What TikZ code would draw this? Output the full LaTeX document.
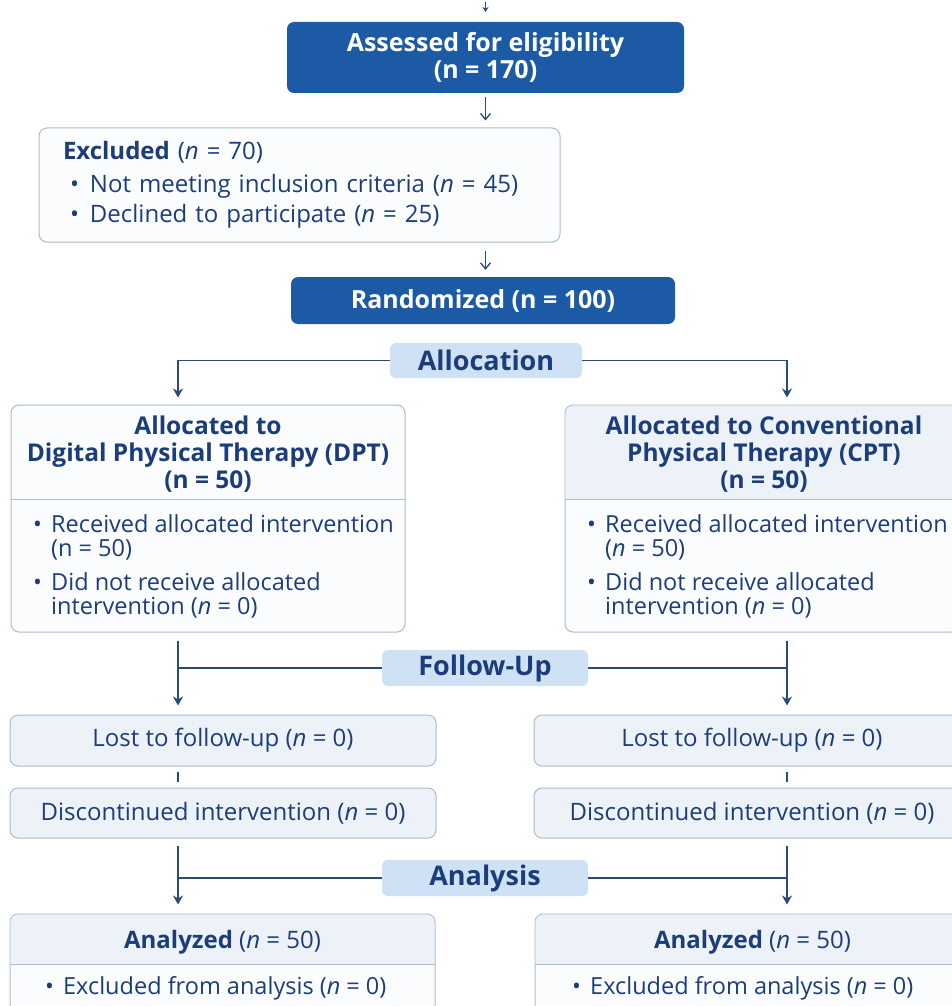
\documentclass[tikz,border=0pt]{standalone}
\usepackage{fontspec}
\setmainfont{Open Sans}
\usepackage{xcolor}
\usepackage{tikz}
\usetikzlibrary{arrows.meta}
\usetikzlibrary{shapes,arrows}

\definecolor{ctdark}{HTML}{1C5AA6}
\definecolor{ctnavy}{HTML}{1B3D7A}
\definecolor{ctline}{HTML}{2B4A78}
\definecolor{cttag}{HTML}{CFE2F5}
\definecolor{ctpale}{HTML}{EDF2F8}
\definecolor{ctwhite}{HTML}{FBFCFE}
\definecolor{ctedge}{HTML}{AEBCCD}

\newcommand{\ctsize}{\fontsize{24}{27}\selectfont}
\newcommand{\ctbody}{\fontsize{23.5}{24}\selectfont}
\newcommand{\cthead}{\fontsize{24.5}{27}\selectfont\bfseries}
\newcommand{\bul}{\makebox[18pt][l]{\textbullet}}

\tikzstyle{darkbox} = [fill=ctdark, text=white, font=\fontsize{25}{27}\selectfont\bfseries, rounded corners=7pt, align=center]
\tikzstyle{palebox} = [draw=ctedge, fill=ctpale, text=ctnavy, line width=1pt, rounded corners=8pt]
\tikzstyle{whitebox} = [palebox, fill=ctwhite]
\tikzstyle{tag} = [fill=cttag, text=ctnavy, font=\fontsize{27}{30}\selectfont\bfseries, rounded corners=6pt, minimum width=206pt, minimum height=36pt, inner sep=0pt]
\tikzstyle{link} = [draw=ctline, line width=1.8pt]
\tikzstyle{arrow} = [link, -{Stealth[length=9pt,width=10pt]}]
\tikzstyle{thinarrow} = [draw=ctline, line width=1.3pt, -{Straight Barb[length=6pt,width=10pt]}]
\tikzstyle{txt} = [text=ctnavy, inner sep=0pt]

\begin{document}
\begin{tikzpicture}[x=1pt, y=-1pt, font=\ctsize]
    \useasboundingbox (0,0) rectangle (951,1006);
    \fill[white] (0,0) rectangle (951,1006);

    % enrolment
    \coordinate (entry) at (485.5,2);
    \coordinate (entrytip) at (485.5,12);
    \draw[draw=ctline, line width=1pt, -{Stealth[length=5pt,width=6pt]}] (entry) -- (entrytip);
    \node[darkbox, minimum width=397pt, minimum height=71pt] (assess) at (485.5,57.5) {Assessed for eligibility\\(n = 170)};
    \node[whitebox, minimum width=521pt, minimum height=114pt, text width=473pt, inner xsep=24pt, align=left, font=\fontsize{24}{30}\selectfont] (excl) at (299.5,185)
        {\textbf{Excluded} (\textit{n} = 70)\\[3pt]
        \hspace*{7pt}\makebox[20pt][l]{\textbullet}Not meeting inclusion criteria (\textit{n} = 45)\\
        \hspace*{7pt}\makebox[20pt][l]{\textbullet}Declined to participate (\textit{n} = 25)};
    \node[darkbox, minimum width=384pt, minimum height=47pt] (rand) at (483,300.5) {Randomized (n = 100)};
    \draw[thinarrow, shorten <=4pt, shorten >=7pt] (assess.south) -- (assess.south |- excl.north);
    \draw[thinarrow, shorten <=8pt, shorten >=7pt] (assess.south |- excl.south) -- (assess.south |- rand.north);

    % stage labels
    \node[tag, minimum width=192pt, minimum height=35pt] (alloc) at (486,360.5) {Allocation};
    \node[tag] (follow) at (485,668) {Follow-Up};
    \node[tag] (analysis) at (485,878) {Analysis};
    \coordinate (lcol) at (178,0);
    \coordinate (rcol) at (787,0);

    % allocation
    \node[whitebox, minimum width=394pt, minimum height=227pt] (dpt) at (208,518.5) {};
    \node[whitebox, minimum width=394pt, minimum height=227pt] (cpt) at (762,518.5) {};
    \begin{scope}
        \clip[rounded corners=8pt] (565.5,405.5) rectangle (958.5,631.5);
        \fill[ctpale] (565,405) rectangle (959,499);
    \end{scope}
    \draw[ctedge, line width=1pt] (11,499) -- (405,499);
    \draw[ctedge, line width=1pt] (565,499) -- (959,499);
    \node[txt, font=\cthead, align=center] (dpthead) at (208,454) {Allocated to\\Digital Physical Therapy (DPT)\\(n = 50)};
    \node[txt, font=\cthead, align=center] (cpthead) at (764,454) {Allocated to Conventional\\Physical Therapy (CPT)\\(n = 50)};
    \node[txt, anchor=west, align=left, font=\ctbody] (dptbody) at (33,566)
        {\bul Received allocated intervention\\\hspace*{18pt}(n = 50)\\[10pt]
        \bul Did not receive allocated\\\hspace*{18pt}intervention (\textit{n} = 0)};
    \node[txt, anchor=west, align=left, font=\ctbody] (cptbody) at (587,566)
        {\bul Received allocated intervention\\\hspace*{18pt}(\textit{n} = 50)\\[10pt]
        \bul Did not receive allocated\\\hspace*{18pt}intervention (\textit{n} = 0)};
    \draw[arrow, shorten >=7pt] (alloc.west) -| (lcol |- dpt.north);
    \draw[arrow, shorten >=7pt] (alloc.east) -| (rcol |- cpt.north);

    % follow-up
    \node[palebox, minimum width=426pt, minimum height=51pt] (lostL) at (223,740.5) {Lost to follow-up (\textit{n} = 0)};
    \node[palebox, minimum width=436pt, minimum height=51pt] (lostR) at (752,740.5) {Lost to follow-up (\textit{n} = 0)};
    \node[palebox, minimum width=426pt, minimum height=50pt] (discL) at (223,813) {Discontinued intervention (\textit{n} = 0)};
    \node[palebox, minimum width=436pt, minimum height=50pt] (discR) at (752,813) {Discontinued intervention (\textit{n} = 0)};

    % analysis
    \node[whitebox, minimum width=425pt, minimum height=101pt] (anL) at (222.5,964.5) {};
    \node[whitebox, minimum width=435pt, minimum height=101pt] (anR) at (752.5,964.5) {};
    \begin{scope}
        \clip[rounded corners=8pt] (10.5,914.5) rectangle (434.5,1014.5);
        \fill[ctpale] (10,914) rectangle (435,964);
    \end{scope}
    \begin{scope}
        \clip[rounded corners=8pt] (535.5,914.5) rectangle (969.5,1014.5);
        \fill[ctpale] (535,914) rectangle (970,964);
    \end{scope}
    \draw[ctedge, line width=1pt] (10,964) -- (435,964);
    \draw[ctedge, line width=1pt] (535,964) -- (970,964);
    \node[txt] (anLhead) at (222.5,942) {\textbf{Analyzed} (\textit{n} = 50)};
    \node[txt] (anRhead) at (752.5,942) {\textbf{Analyzed} (\textit{n} = 50)};
    \node[txt, anchor=west, font=\ctbody] (anLbody) at (45,988) {\bul Excluded from analysis (\textit{n} = 0)};
    \node[txt, anchor=west, font=\ctbody] (anRbody) at (572,988) {\bul Excluded from analysis (\textit{n} = 0)};

    % column connectors
    \foreach \c/\s/\t/\side in {lcol/L/dpt/west, rcol/R/cpt/east} {
        \draw[arrow, shorten <=8pt, shorten >=9pt] (\c |- \t.south) -- (\c |- lost\s.north);
        \draw[link] (follow.\side) -- (\c |- follow.\side);
        \draw[link, shorten <=5pt, shorten >=6pt] (\c |- lost\s.south) -- (\c |- disc\s.north);
        \draw[arrow, shorten <=7pt, shorten >=9pt] (\c |- disc\s.south) -- (\c |- an\s.north);
        \draw[link] (analysis.\side) -- (\c |- analysis.\side);
    }
\end{tikzpicture}
\end{document}
